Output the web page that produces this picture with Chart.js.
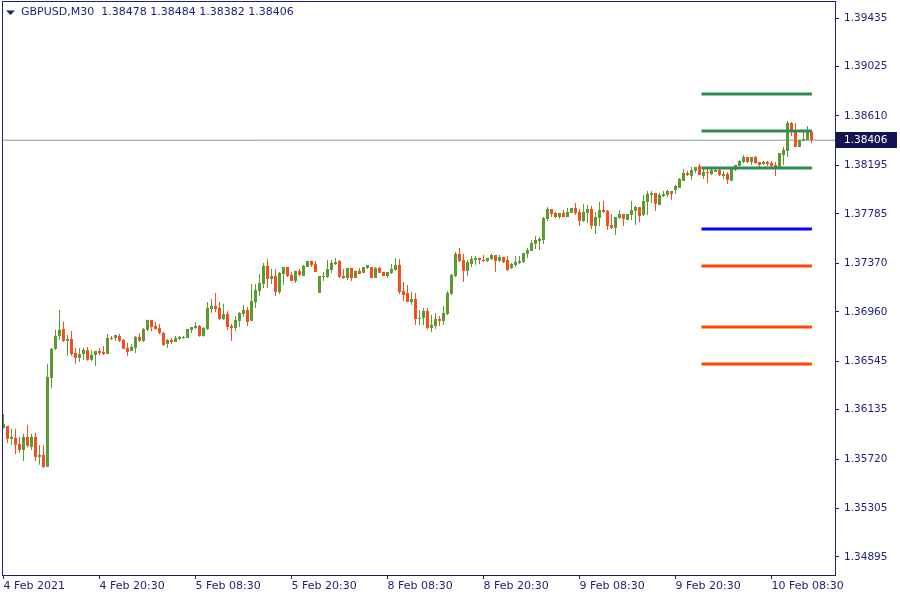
<!DOCTYPE html>
<html>
<head>
<meta charset="utf-8">
<title>GBPUSD,M30</title>
<script src="https://cdn.jsdelivr.net/npm/chart.js@4.4.1/dist/chart.umd.min.js"></script>
<style>
  html, body { margin: 0; padding: 0; background: #fff; }
  #wrap { width: 900px; height: 600px; }
</style>
</head>
<body>
<div id="wrap"><canvas id="chart" width="900" height="600"></canvas></div>
<script>
// ---- data (M30 bars, oldest first) ----
const SYMBOL = "GBPUSD,M30";

const OPEN = [
  1.35982,1.35999,1.35890,1.35898,1.35847,1.35797,1.35906,1.35822,1.35906,1.35738,
  1.35755,1.35654,1.36403,1.36648,1.36757,1.36816,1.36715,1.36732,1.36614,1.36572,
  1.36605,1.36639,1.36555,1.36597,1.36631,1.36622,1.36605,1.36740,1.36740,1.36757,
  1.36723,1.36656,1.36631,1.36656,1.36749,1.36715,1.36808,1.36892,1.36841,1.36824,
  1.36782,1.36690,1.36723,1.36706,1.36732,1.36740,1.36740,1.36808,1.36824,1.36841,
  1.36757,1.36816,1.36984,1.37010,1.36993,1.36900,1.36942,1.36841,1.36824,1.36883,
  1.36942,1.36976,1.36883,1.37043,1.37136,1.37195,1.37347,1.37237,1.37262,1.37128,
  1.37279,1.37338,1.37271,1.37220,1.37305,1.37262,1.37338,1.37389,1.37363,1.37119,
  1.37254,1.37254,1.37313,1.37363,1.37389,1.37262,1.37245,1.37330,1.37245,1.37305,
  1.37288,1.37330,1.37338,1.37245,1.37330,1.37296,1.37262,1.37288,1.37313,1.37355,
  1.37136,1.37119,1.37043,1.37069,1.36900,1.36908,1.36968,1.36824,1.36841,1.36900,
  1.36883,1.36942,1.37111,1.37262,1.37448,1.37397,1.37305,1.37363,1.37397,1.37414,
  1.37397,1.37389,1.37406,1.37439,1.37389,1.37422,1.37397,1.37330,1.37355,1.37372,
  1.37380,1.37448,1.37473,1.37532,1.37557,1.37565,1.37742,1.37826,1.37793,1.37759,
  1.37793,
  1.37759,1.37793,1.37835,1.37801,1.37726,1.37793,1.37826,1.37684,1.37751,1.37818,
  1.37810,1.37692,1.37667,1.37751,1.37784,1.37734,1.37776,1.37810,1.37843,1.37776,
  1.37886,1.37945,1.37961,1.37860,1.37936,1.37945,1.37978,1.37987,1.38003,1.38063,
  1.38130,1.38105,1.38147,1.38189,1.38105,1.38138,1.38121,1.38138,1.38155,1.38105,
  1.38121,1.38063,1.38155,1.38189,1.38222,1.38265,1.38222,1.38265,1.38222,1.38206,
  1.38222,1.38214,1.38197,1.38164,1.38281,1.38315,1.38551,1.38475,1.38349,1.38399,
  1.38408,1.38478
];

const HIGH = [
  1.36100,1.35999,1.35974,1.35974,1.35906,1.35932,1.36007,1.35932,1.35940,1.35839,
  1.35839,1.36521,1.36656,1.36808,1.36976,1.36875,1.36765,1.36799,1.36656,1.36656,
  1.36656,1.36664,1.36639,1.36631,1.36656,1.36673,1.36774,1.36757,1.36765,1.36774,
  1.36732,1.36698,1.36690,1.36757,1.36782,1.36824,1.36892,1.36892,1.36875,1.36858,
  1.36791,1.36732,1.36740,1.36757,1.36757,1.36757,1.36816,1.36832,1.36875,1.36850,
  1.36832,1.37043,1.37069,1.37119,1.37043,1.37027,1.36968,1.36858,1.36925,1.36959,
  1.37018,1.37001,1.37195,1.37195,1.37279,1.37372,1.37406,1.37321,1.37321,1.37296,
  1.37338,1.37338,1.37296,1.37305,1.37321,1.37355,1.37389,1.37389,1.37389,1.37262,
  1.37296,1.37397,1.37397,1.37414,1.37397,1.37321,1.37330,1.37330,1.37305,1.37330,
  1.37338,1.37355,1.37338,1.37338,1.37338,1.37296,1.37296,1.37363,1.37414,1.37406,
  1.37212,1.37186,1.37128,1.37119,1.36976,1.36993,1.36993,1.36934,1.36951,1.36925,
  1.37010,1.37136,1.37279,1.37464,1.37498,1.37448,1.37397,1.37431,1.37431,1.37414,
  1.37439,1.37414,1.37448,1.37439,1.37439,1.37422,1.37431,1.37372,1.37431,1.37431,
  1.37456,1.37498,1.37565,1.37599,1.37591,1.37759,1.37843,1.37826,1.37801,1.37793,
  1.37818,
  1.37835,1.37835,1.37877,1.37826,1.37869,1.37860,1.37852,1.37801,1.37886,1.37894,
  1.37818,1.37784,1.37759,1.37818,1.37784,1.37784,1.37894,1.37852,1.37843,1.37945,
  1.37978,1.37978,1.37961,1.37961,1.37978,1.37987,1.37978,1.38029,1.38088,1.38164,
  1.38147,1.38180,1.38180,1.38206,1.38164,1.38164,1.38164,1.38180,1.38164,1.38147,
  1.38138,1.38180,1.38197,1.38239,1.38281,1.38265,1.38265,1.38273,1.38222,1.38231,
  1.38231,1.38231,1.38222,1.38298,1.38349,1.38568,1.38559,1.38551,1.38408,1.38492,
  1.38526,1.38484
];

const LOW = [
  1.35974,1.35856,1.35839,1.35763,1.35772,1.35704,1.35822,1.35797,1.35704,1.35671,
  1.35645,1.35654,1.36319,1.36639,1.36723,1.36706,1.36589,1.36589,1.36521,1.36538,
  1.36555,1.36547,1.36547,1.36504,1.36597,1.36597,1.36605,1.36723,1.36715,1.36706,
  1.36648,1.36589,1.36631,1.36614,1.36706,1.36706,1.36799,1.36799,1.36808,1.36774,
  1.36673,1.36656,1.36690,1.36706,1.36723,1.36732,1.36740,1.36782,1.36816,1.36749,
  1.36749,1.36808,1.36951,1.36959,1.36892,1.36892,1.36808,1.36715,1.36799,1.36832,
  1.36917,1.36841,1.36883,1.36993,1.37094,1.37161,1.37161,1.37195,1.37094,1.37111,
  1.37186,1.37254,1.37220,1.37203,1.37262,1.37262,1.37338,1.37338,1.37296,1.37119,
  1.37220,1.37245,1.37288,1.37355,1.37245,1.37237,1.37229,1.37220,1.37245,1.37279,
  1.37288,1.37321,1.37245,1.37245,1.37288,1.37262,1.37245,1.37279,1.37305,1.37111,
  1.37052,1.37043,1.37018,1.36850,1.36850,1.36850,1.36816,1.36791,1.36816,1.36841,
  1.36850,1.36934,1.37102,1.37254,1.37380,1.37212,1.37262,1.37338,1.37355,1.37363,
  1.37380,1.37380,1.37397,1.37296,1.37380,1.37372,1.37305,1.37321,1.37338,1.37363,
  1.37372,1.37414,1.37473,1.37490,1.37481,1.37532,1.37726,1.37759,1.37751,1.37742,
  1.37759,
  1.37759,1.37793,1.37776,1.37684,1.37717,1.37709,1.37658,1.37616,1.37684,1.37793,
  1.37650,1.37658,1.37608,1.37742,1.37684,1.37734,1.37734,1.37692,1.37717,1.37768,
  1.37776,1.37877,1.37810,1.37860,1.37928,1.37928,1.37902,1.37953,1.38003,1.38063,
  1.38105,1.38071,1.38130,1.38113,1.38079,1.38046,1.38113,1.38138,1.38105,1.38079,
  1.38037,1.38063,1.38147,1.38189,1.38214,1.38214,1.38197,1.38206,1.38180,1.38197,
  1.38189,1.38180,1.38105,1.38164,1.38197,1.38265,1.38441,1.38349,1.38349,1.38399,
  1.38408,1.38382
];

const CLOSE = [
  1.36016,1.35890,1.35906,1.35839,1.35797,1.35906,1.35831,1.35906,1.35738,1.35755,
  1.35654,1.36412,1.36648,1.36757,1.36808,1.36715,1.36732,1.36605,1.36572,1.36605,
  1.36639,1.36555,1.36597,1.36631,1.36614,1.36605,1.36740,1.36732,1.36765,1.36715,
  1.36648,1.36622,1.36664,1.36749,1.36715,1.36816,1.36892,1.36832,1.36816,1.36782,
  1.36681,1.36723,1.36706,1.36740,1.36749,1.36749,1.36816,1.36832,1.36841,1.36757,
  1.36824,1.36993,1.37010,1.36984,1.36900,1.36942,1.36832,1.36824,1.36892,1.36951,
  1.36976,1.36875,1.37052,1.37144,1.37203,1.37347,1.37237,1.37262,1.37128,1.37288,
  1.37338,1.37262,1.37220,1.37305,1.37271,1.37347,1.37389,1.37355,1.37296,1.37262,
  1.37262,1.37321,1.37372,1.37380,1.37254,1.37245,1.37330,1.37245,1.37305,1.37279,
  1.37338,1.37355,1.37245,1.37330,1.37288,1.37262,1.37296,1.37321,1.37355,1.37128,
  1.37102,1.37043,1.37069,1.36900,1.36908,1.36968,1.36824,1.36850,1.36900,1.36883,
  1.36951,1.37119,1.37271,1.37448,1.37389,1.37305,1.37380,1.37406,1.37414,1.37397,
  1.37389,1.37414,1.37439,1.37389,1.37422,1.37380,1.37313,1.37363,1.37380,1.37389,
  1.37456,1.37481,1.37540,1.37565,1.37574,1.37751,1.37826,1.37784,1.37759,1.37793,
  1.37759,
  1.37801,1.37835,1.37793,1.37726,1.37801,1.37826,1.37684,1.37759,1.37818,1.37801,
  1.37684,1.37667,1.37759,1.37784,1.37742,1.37784,1.37818,1.37843,1.37768,1.37894,
  1.37953,1.37961,1.37869,1.37945,1.37953,1.37978,1.37953,1.38020,1.38079,1.38130,
  1.38113,1.38155,1.38180,1.38113,1.38138,1.38130,1.38155,1.38155,1.38113,1.38121,
  1.38071,1.38172,1.38197,1.38231,1.38265,1.38222,1.38265,1.38214,1.38197,1.38222,
  1.38206,1.38189,1.38164,1.38298,1.38324,1.38551,1.38475,1.38349,1.38408,1.38416,
  1.38475,1.38406
];

// time axis: a label every 24 bars (12 hours)
const X_TICK_BARS = [0, 24, 48, 72, 96, 120, 144, 168, 192];
const X_TICK_LABELS = ["4 Feb 2021", "4 Feb 20:30", "5 Feb 08:30", "5 Feb 20:30",
  "8 Feb 08:30", "8 Feb 20:30", "9 Feb 08:30", "9 Feb 20:30", "10 Feb 08:30"];

// price scale labels as the terminal shows them
const Y_TICKS = [1.39435, 1.39025, 1.38610, 1.38195, 1.37785, 1.37370,
  1.36960, 1.36545, 1.36135, 1.35720, 1.35305, 1.34895];

// horizontal levels drawn over the last bars
const LEVEL_VALUES = [1.38795, 1.38484, 1.38172, 1.37658, 1.37347, 1.36832, 1.36521];
const LEVEL_COLORS = ["#2e8b57", "#2e8b57", "#2e8b57", "#0000ff", "#ff4500", "#ff4500", "#ff4500"];
const LEVEL_FROM_BAR = 174.5;
const LEVEL_TO_BAR = 202.1;

// ---- look ----
const BULL = "#5b9a2f";
const BEAR = "#f44d1e";
const NAVY = "#1d1d7a";
const TAG_BG = "#141452";
const PRICE_LINE = "#8595a5";
const FONT = "DejaVu Sans";

const X_MIN = -0.125, X_MAX = 207.875;
const Y_MIN = 1.34743, Y_MAX = 1.39570;

const bars = OPEN.map((_, i) => i);
const candleColors = bars.map(i => CLOSE[i] >= OPEN[i] ? BULL : BEAR);
const lastClose = CLOSE[CLOSE.length - 1];

const datasets = [];

// levels on top
LEVEL_VALUES.forEach((v, k) => {
  datasets.push({
    type: "line",
    data: [{ x: LEVEL_FROM_BAR, y: v }, { x: LEVEL_TO_BAR, y: v }],
    borderColor: LEVEL_COLORS[k],
    borderWidth: 3,
    borderCapStyle: "butt",
    pointRadius: 0,
    order: 0
  });
});

// candle bodies
datasets.push({
  type: "bar",
  data: bars.map(i => ({ x: i, y: [OPEN[i], CLOSE[i]] })),
  backgroundColor: candleColors,
  barThickness: 3,
  minBarLength: 1,
  grouped: false,
  borderWidth: 0,
  borderSkipped: false,
  inflateAmount: 0,
  order: 1
});

// wicks
datasets.push({
  type: "bar",
  data: bars.map(i => ({ x: i, y: [LOW[i], HIGH[i]] })),
  backgroundColor: candleColors,
  barThickness: 1,
  grouped: false,
  borderWidth: 0,
  borderSkipped: false,
  inflateAmount: 0,
  order: 2
});

// bid line across the whole chart, behind everything
datasets.push({
  type: "line",
  data: [{ x: X_MIN, y: lastClose }, { x: X_MAX, y: lastClose }],
  borderColor: PRICE_LINE,
  borderWidth: 1,
  pointRadius: 0,
  order: 3
});

// no extra room for half labels at the ends of the axes
function noEdgePadding(s) {
  s.paddingTop = 0;
  s.paddingBottom = 0;
  s.paddingLeft = 0;
  s.paddingRight = 0;
}

// frame, header text and the price tag
const terminalDecor = {
  id: "terminalDecor",
  afterDraw(chart) {
    const { ctx, chartArea: a, scales } = chart;
    ctx.save();
    ctx.strokeStyle = NAVY;
    ctx.lineWidth = 1;
    ctx.strokeRect(a.left - 0.5, a.top - 0.5, a.right - a.left + 1, a.bottom - a.top + 1);

    // header
    ctx.fillStyle = NAVY;
    ctx.beginPath();
    ctx.moveTo(6, 10.5);
    ctx.lineTo(15, 10.5);
    ctx.lineTo(10.5, 15);
    ctx.closePath();
    ctx.fill();
    ctx.font = "11px '" + FONT + "'";
    ctx.textBaseline = "middle";
    ctx.textAlign = "left";
    const last = OPEN.length - 1;
    const head = SYMBOL + "  " + [OPEN[last], HIGH[last], LOW[last], CLOSE[last]].map(v => v.toFixed(5)).join(" ");
    ctx.fillText(head, 21, 12.5);

    // price tag on the axis
    const py = Math.round(scales.y.getPixelForValue(lastClose));
    ctx.fillStyle = TAG_BG;
    ctx.fillRect(a.right + 1, py - 8, 61, 16);
    ctx.fillStyle = "#ffffff";
    ctx.font = "10.5px '" + FONT + "'";
    ctx.fillText(lastClose.toFixed(5), a.right + 9, py + 0.5);
    ctx.restore();
  }
};

new Chart(document.getElementById("chart"), {
  type: "bar",
  data: { datasets },
  options: {
    responsive: false,
    animation: false,
    events: [],
    layout: { padding: { left: 3, top: 2, right: 0, bottom: 0 } },
    plugins: { legend: { display: false }, tooltip: { enabled: false } },
    scales: {
      x: {
        type: "linear",
        min: X_MIN,
        max: X_MAX,
        offset: false,
        afterBuildTicks: s => { s.ticks = X_TICK_BARS.map(v => ({ value: v })); },
        afterFit: s => { s.height = 25; noEdgePadding(s); },
        grid: { drawOnChartArea: false, drawTicks: true, tickLength: 4, color: NAVY, offset: false },
        border: { display: false },
        ticks: {
          autoSkip: false,
          maxRotation: 0,
          align: "start",
          padding: 1,
          color: NAVY,
          font: { family: FONT, size: 11 },
          callback: v => {
            const k = X_TICK_BARS.indexOf(v);
            return k >= 0 ? X_TICK_LABELS[k] : "";
          }
        }
      },
      y: {
        type: "linear",
        position: "right",
        min: Y_MIN,
        max: Y_MAX,
        afterBuildTicks: s => { s.ticks = Y_TICKS.map(v => ({ value: v })); },
        afterFit: s => { s.width = 65; noEdgePadding(s); },
        grid: { drawOnChartArea: false, drawTicks: true, tickLength: 4, color: NAVY },
        border: { display: false },
        ticks: {
          autoSkip: false,
          padding: 5,
          color: NAVY,
          font: { family: FONT, size: 10.5 },
          callback: v => v.toFixed(5)
        }
      }
    }
  },
  plugins: [terminalDecor]
});
</script>
</body>
</html>
